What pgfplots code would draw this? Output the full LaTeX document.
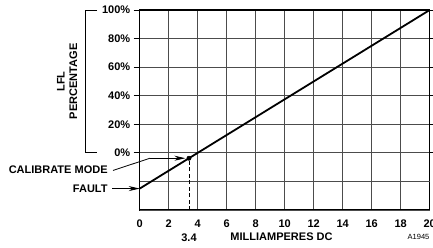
\documentclass[border=0pt]{standalone}
\usepackage{pgfplots}
\pgfplotsset{compat=1.18}
\usepackage{fontspec}
\setmainfont{Liberation Sans}
\usetikzlibrary{arrows.meta}
\begin{document}
\begin{tikzpicture}
\path[use as bounding box] (0,0) rectangle (433pt,247pt);
\begin{axis}[
  at={(139.7pt,37pt)}, anchor=south west,
  scale only axis, width=290pt, height=200pt,
  xmin=0, xmax=20, ymin=-40, ymax=100,
  xtick={0,2,...,20},
  ytick={0,20,...,100},
  yticklabel={\pgfmathprintnumber{\tick}\%},
  extra y ticks={-40,-20},
  extra y tick labels={},
  extra y tick style={grid=major, major tick length=0pt},
  grid=major,
  major grid style={line width=0.9pt, draw=black!70},
  axis line style={line width=1.1pt},
  tick align=outside,
  major tick length=6pt,
  xtick style={draw=none},
  ytick style={line width=0.9pt, black},
  tick label style={font=\fontsize{11}{13}\selectfont\bfseries},
  /pgf/number format/assume math mode=true,
  clip=false,
  axis on top=false,
]
\addplot[black, line width=1.8pt] coordinates {(0,-25) (20,100)};
\addplot[black, dashed, line width=0.8pt, dash pattern=on 4pt off 2.5pt] coordinates {(3.4,-40) (3.4,-3.75)};
\addplot[black, only marks, mark=*, mark size=2.2pt] coordinates {(3.4,-3.75)};
% y label with bracket
\draw[line width=0.9pt] (axis cs:-2.94,100) -- (axis cs:-3.77,100) -- (axis cs:-3.77,0) -- (axis cs:-2.94,0);
\node[rotate=90, align=center, font=\fontsize{11}{12.5}\selectfont\bfseries] at (axis cs:-5.01,50) {LFL\\PERCENTAGE};
% annotations
\node[anchor=east, inner sep=0pt, font=\fontsize{11}{13}\selectfont\bfseries] at (axis cs:-2.2,-11.6) {CALIBRATE MODE};
\draw[line width=0.8pt] (axis cs:-1.84,-12.3) -- (axis cs:0.71,-3.75);
\draw[line width=0.8pt, -{Stealth[length=11pt,width=5pt]}] (axis cs:0.71,-3.75) -- (axis cs:3.15,-3.75);
\node[anchor=east, inner sep=0pt, font=\fontsize{11}{13}\selectfont\bfseries] at (axis cs:-2.2,-25) {FAULT};
\draw[line width=0.8pt, -{Stealth[length=11pt,width=5pt]}] (axis cs:-1.9,-25) -- (axis cs:0,-25);
\node[font=\fontsize{11}{13}\selectfont\bfseries] at (axis cs:3.4,-59.7) {3.4};
\node[font=\fontsize{11}{13}\selectfont\bfseries] at (axis cs:9.78,-59) {MILLIAMPERES DC};
\node[font=\fontsize{7.5}{9}\selectfont] at (axis cs:19.23,-59) {A1945};
\end{axis}
\end{tikzpicture}
\end{document}
